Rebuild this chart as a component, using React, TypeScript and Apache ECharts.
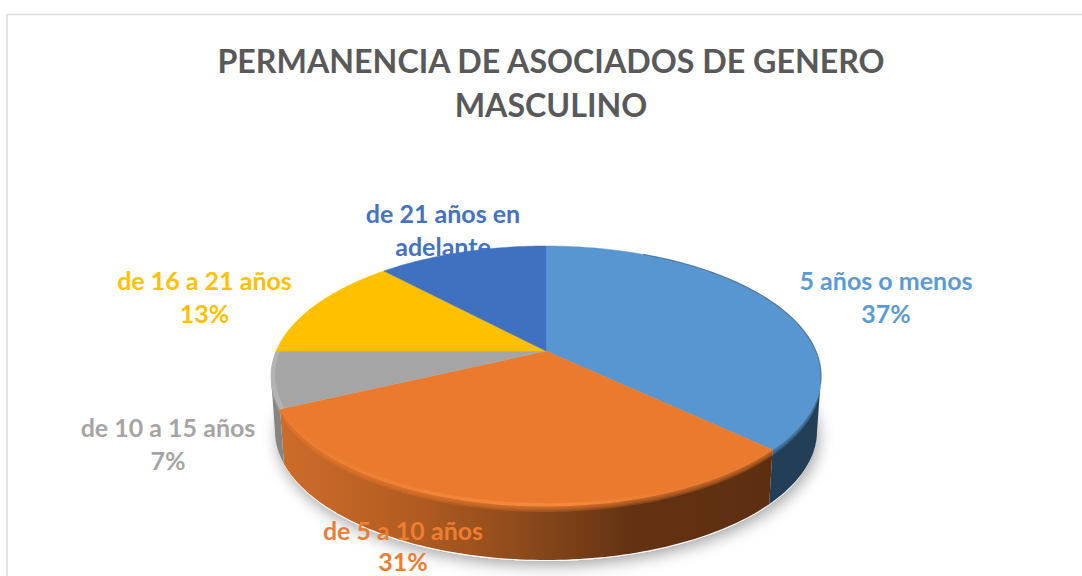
import React, { useEffect, useRef } from "react";
import * as echarts from "echarts";

const TITLE = "PERMANENCIA DE ASOCIADOS DE GENERO\nMASCULINO";
const CATEGORIES = ["5 años o menos", "de 5 a 10 años", "de 10 a 15 años", "de 16 a 21 años", "de 21 años en adelante"];
const VALUES = [37, 31, 7, 13, 12];
const LABEL_LINES = [["5 años o menos", "37%"], ["de 5 a 10 años", "31%"], ["de 10 a 15 años", "7%"], ["de 16 a 21 años", "13%"], ["de 21 años en", "adelante"]];

const COLORS = ["#5896d2", "#ea7a2d", "#a5a5a5", "#ffc000", "#4070c0"];
const LABEL_COLORS = ["#5b9bd5", "#ed7d31", "#a5a5a5", "#ffc000", "#4472c4"];
const LABEL_X = [886, 403, 168, 204.5, 443];
const LABEL_Y = [280, 530, 427, 280, 213];
const LABEL_GAP = [33, 31, 33, 33, 33];

const CX = 546, CY = 376, RX = 275, RY = 130, E = -0.192;
const BCX = 546, BCY = 431, BRX = 271, BRY = 129;

const project = (theta: number, r = 1) => {
  const u = r * Math.sin(theta);
  const v = -r * Math.cos(theta);
  const den = 1 + E * v;
  return [CX + (RX * u * Math.sqrt(1 - E * E)) / den, CY + (RY * (v + E)) / den];
};
const arc = (a0: number, a1: number, r = 1) => {
  const n = Math.max(2, Math.ceil((a1 - a0) / 0.02));
  const pts: number[][] = [];
  for (let i = 0; i <= n; i++) pts.push(project(a0 + ((a1 - a0) * i) / n, r));
  return pts;
};
const lower = (p: number[]) => [BCX + (BRX * (p[0] - CX)) / RX, BCY + (BRY * (p[1] - CY)) / RY];

const H = (x0: number, x1: number, stops: [number, string][]) =>
  new echarts.graphic.LinearGradient(x0, 0, x1, 0, stops.map(([offset, color]) => ({ offset, color })), true);

const wallFill = (i: number): any => {
  if (i === 0) return "#233f57";
  if (i === 1)
    return H(282, 768, [
      [0, "#cc6c2a"],
      [0.25, "#b55d22"],
      [0.5, "#8c4a1b"],
      [0.72, "#633212"],
      [1, "#5d2f10"],
    ]);
  return "#858585";
};

const renderItem = (params: any, api: any) => {
  const i = params.dataIndex;
  const total = VALUES.reduce((a, b) => a + b, 0);
  const before = VALUES.slice(0, i).reduce((a, b) => a + b, 0);
  const a0 = (before / total) * Math.PI * 2;
  const a1 = ((before + api.value(0)) / total) * Math.PI * 2;
  const edge = arc(a0, a1);
  const children: any[] = [];

  children.push({
    type: "polygon",
    z2: 5,
    shape: { points: [project(0, 0), ...edge] },
    style: { fill: COLORS[i], stroke: COLORS[i], lineWidth: 0.5 },
  });

  const front = edge.filter((p) => p[1] >= CY - 1);
  if (front.length > 1) {
    children.push({
      type: "polygon",
      z2: 2,
      shape: { points: [...front, ...front.map(lower).reverse()] },
      style: { fill: wallFill(i) },
    });
    [1.5, 3, 4.5, 6].forEach((d) => {
      children.push({
        type: "polygon",
        z2: 3,
        shape: { points: [...front, ...front.map((p) => [p[0], p[1] + d]).reverse()] },
        style: { fill: COLORS[i], opacity: 0.28 },
      });
    });
  }

  if (i === 1 || i === 2) {
    children.push({
      type: "polygon",
      z2: 6,
      shape: { points: [...edge.map((p) => [p[0], p[1] + 0.5]), ...arc(a0, a1, 0.985).reverse()] },
      style: {
        fill:
          i === 1
            ? H(282, 680, [
                [0, "rgba(248,140,62,0)"],
                [0.5, "rgba(248,140,62,0.7)"],
                [0.7, "rgba(248,140,62,0.75)"],
                [1, "rgba(248,140,62,0)"],
              ])
            : "rgba(185,185,185,0.7)",
      },
    });
  }

  if (i === 0) {
    children.push({
      type: "polyline",
      z2: 6,
      shape: { points: edge.filter((p) => p[1] <= CY + 10 && p[0] > 640) },
      style: { fill: "none", stroke: "rgba(40,75,110,0.5)", lineWidth: 1.2 },
    });
  }

  LABEL_LINES[i].forEach((line, k) => {
    children.push({
      type: "text",
      z2: i === 4 ? 0 : 10,
      x: LABEL_X[i],
      y: LABEL_Y[i] + k * LABEL_GAP[i],
      style: {
        text: line,
        fill: LABEL_COLORS[i],
        fontFamily: "Lato",
        fontWeight: "bold",
        fontSize: 25,
        align: "center",
        verticalAlign: "middle",
      },
    });
  });

  return { type: "group", children };
};

export default function App() {
  const ref = useRef<HTMLDivElement>(null);
  useEffect(() => {
    const chart = echarts.init(ref.current!, undefined, { renderer: "svg" });
    chart.setOption({
      animation: false,
      backgroundColor: "#ffffff",
      title: {
        text: TITLE,
        left: 546,
        top: 33,
        textAlign: "center",
        textStyle: {
          color: "#595959",
          fontFamily: "Lato",
          fontWeight: "bold",
          fontSize: 32.2,
          lineHeight: 44,
        },
      },
      graphic: [
        {
          type: "polyline",
          z: 0,
          shape: { points: [[7, 576], [7, 14.5], [1082, 14.5]] },
          style: { fill: "none", stroke: "#dcdcdc", lineWidth: 1.5 },
        },
        {
          type: "ellipse",
          z: 0,
          shape: { cx: 546, cy: 433, rx: 270, ry: 128 },
          style: { fill: "#ffffff", shadowBlur: 16, shadowColor: "rgba(0,0,0,0.38)", shadowOffsetX: 2, shadowOffsetY: 4 },
        },
      ],
      series: [
        {
          type: "custom",
          coordinateSystem: "none",
          renderItem,
          data: CATEGORIES.map((name, k) => ({ name, value: VALUES[k] })),
        },
      ],
    });
    return () => chart.dispose();
  }, []);
  return <div ref={ref} style={{ position: "fixed", left: 0, top: 0, width: 1082, height: 576 }} />;
}
